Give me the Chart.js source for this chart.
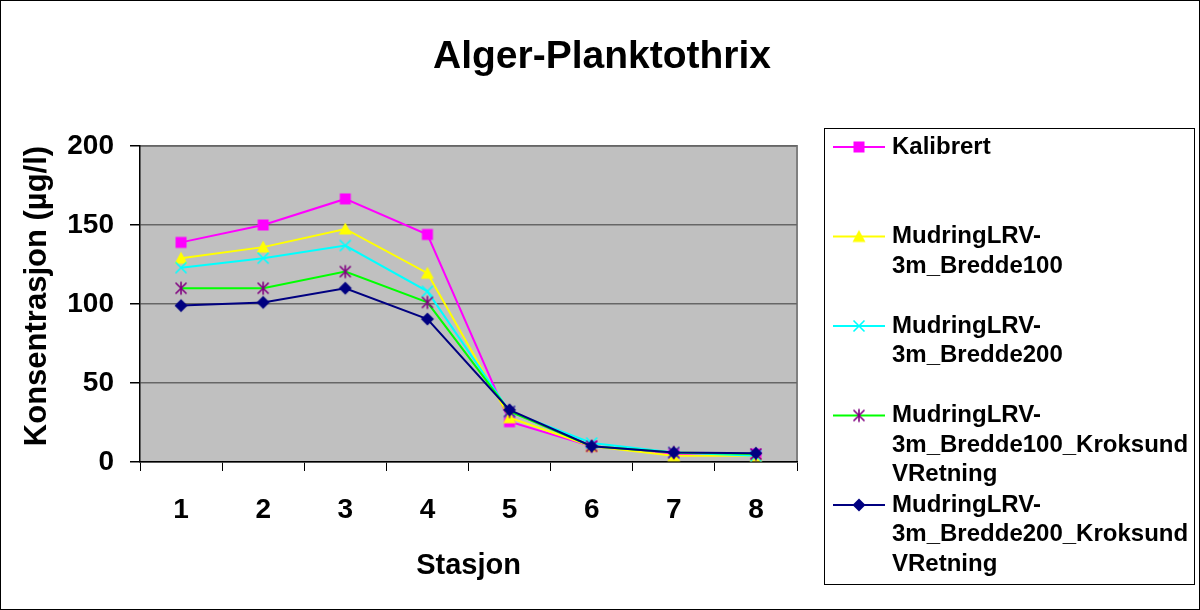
<!DOCTYPE html>
<html>
<head>
<meta charset="utf-8">
<script src="https://cdn.jsdelivr.net/npm/chart.js@4/dist/chart.umd.min.js"></script>
<style>
  html, body { margin: 0; padding: 0; background: #fff; }
  #wrap { width: 1200px; height: 610px; position: relative; }
</style>
</head>
<body>
<div id="wrap"><canvas id="chart" width="1200" height="610"></canvas></div>
<script>
const stations = ['1', '2', '3', '4', '5', '6', '7', '8'];
const kalibrert = [139, 150, 166.5, 144, 25.5, 10, 5, 5];
const bredde100 = [129, 136, 147.5, 119.5, 28, 10, 4, 4];
const bredde200 = [123, 129, 137, 108, 32, 12, 6, 4];
const bredde100Kroksund = [110, 110, 120.5, 101, 32, 10, 6, 5];
const bredde200Kroksund = [99, 101, 110, 90.5, 33, 10, 6, 5.5];
const yTicks = [0, 50, 100, 150, 200];

const FONT = 'Arial, "Liberation Sans", sans-serif';

// small canvases used as point markers (plot + legend)
const makeMarker = (shape, color) => {
  const s = 16;
  const c = document.createElement('canvas');
  c.width = s; c.height = s;
  const g = c.getContext('2d');
  const m = s / 2;
  g.fillStyle = color;
  g.strokeStyle = color;
  g.lineWidth = 1.6;
  if (shape === 'square') {
    g.fillRect(m - 5.5, m - 5.5, 11, 11);
  } else if (shape === 'triangle') {
    g.beginPath();
    g.moveTo(m, m - 6.5); g.lineTo(m + 6.5, m + 5.5); g.lineTo(m - 6.5, m + 5.5);
    g.closePath(); g.fill();
  } else if (shape === 'diamond') {
    g.beginPath();
    g.moveTo(m, m - 6.5); g.lineTo(m + 6.5, m); g.lineTo(m, m + 6.5); g.lineTo(m - 6.5, m);
    g.closePath(); g.fill();
  } else if (shape === 'cross') {
    g.beginPath();
    g.moveTo(m - 5.5, m - 5.5); g.lineTo(m + 5.5, m + 5.5);
    g.moveTo(m + 5.5, m - 5.5); g.lineTo(m - 5.5, m + 5.5);
    g.stroke();
  } else if (shape === 'asterisk') {
    g.beginPath();
    g.moveTo(m - 5.5, m - 5.5); g.lineTo(m + 5.5, m + 5.5);
    g.moveTo(m + 5.5, m - 5.5); g.lineTo(m - 5.5, m + 5.5);
    g.moveTo(m, m - 6.5); g.lineTo(m, m + 6.5);
    g.stroke();
  }
  return c;
};

const series = [
  { label: ['Kalibrert'], data: kalibrert, line: '#FF00FF', marker: makeMarker('square', '#FF00FF') },
  { label: ['MudringLRV-', '3m_Bredde100'], data: bredde100, line: '#FFFF00', marker: makeMarker('triangle', '#FFFF00') },
  { label: ['MudringLRV-', '3m_Bredde200'], data: bredde200, line: '#00FFFF', marker: makeMarker('cross', '#00FFFF') },
  { label: ['MudringLRV-', '3m_Bredde100_Kroksund', 'VRetning'], data: bredde100Kroksund, line: '#00FF00', marker: makeMarker('asterisk', '#800080') },
  { label: ['MudringLRV-', '3m_Bredde200_Kroksund', 'VRetning'], data: bredde200Kroksund, line: '#000080', marker: makeMarker('diamond', '#000080') }
];

// grey plot area, frame, titles and the boxed legend
const decor = {
  id: 'decor',
  beforeDraw(chart) {
    const { ctx, chartArea: a } = chart;
    ctx.save();
    ctx.fillStyle = '#fff';
    ctx.fillRect(0, 0, chart.width, chart.height);
    ctx.strokeStyle = '#000';
    ctx.lineWidth = 1;
    ctx.strokeRect(0.5, 0.5, chart.width - 1, chart.height - 1);
    ctx.fillStyle = '#C0C0C0';
    ctx.fillRect(a.left, a.top, a.right - a.left, a.bottom - a.top);
    ctx.strokeStyle = '#808080';
    ctx.lineWidth = 2;
    ctx.beginPath();
    ctx.moveTo(a.left, a.top); ctx.lineTo(a.right, a.top); ctx.lineTo(a.right, a.bottom);
    ctx.stroke();
    ctx.restore();
  },
  afterDraw(chart) {
    const { ctx, chartArea: a } = chart;
    ctx.save();
    ctx.fillStyle = '#000';
    ctx.textAlign = 'center';
    ctx.textBaseline = 'alphabetic';
    ctx.font = 'bold 39px ' + FONT;
    ctx.fillText('Alger-Planktothrix', 602, 68);
    ctx.font = 'bold 29px ' + FONT;
    ctx.fillText('Stasjon', (a.left + a.right) / 2, 574);
    ctx.font = 'bold 31px ' + FONT;
    ctx.translate(46, 296);
    ctx.rotate(-Math.PI / 2);
    ctx.fillText('Konsentrasjon (\u00b5g/l)', 0, 0);
    ctx.restore();

    // legend
    ctx.save();
    ctx.strokeStyle = '#000';
    ctx.lineWidth = 1;
    ctx.strokeRect(824.5, 128.5, 370, 456);
    ctx.font = 'bold 24px ' + FONT;
    ctx.textAlign = 'left';
    ctx.textBaseline = 'middle';
    series.forEach((s, i) => {
      const y = 147 + i * 89.5;
      ctx.strokeStyle = s.line;
      ctx.lineWidth = 2;
      ctx.beginPath();
      ctx.moveTo(833, y); ctx.lineTo(885, y);
      ctx.stroke();
      ctx.drawImage(s.marker, 859 - s.marker.width / 2, y - s.marker.height / 2);
      ctx.fillStyle = '#000';
      s.label.forEach((t, j) => ctx.fillText(t, 892, y + j * 29.5));
    });
    ctx.restore();
  }
};

new Chart(document.getElementById('chart'), {
  type: 'line',
  data: {
    labels: stations,
    datasets: series.map((s, i) => ({
      label: s.label.join(''),
      data: s.data,
      order: series.length - i,
      borderColor: s.line,
      backgroundColor: s.line,
      borderWidth: 2,
      pointStyle: s.marker,
      pointRadius: 7,
      tension: 0
    }))
  },
  options: {
    responsive: false,
    animation: false,
    layout: { padding: { left: 0, top: 146, right: 403, bottom: 0 } },
    plugins: {
      legend: { display: false },
      title: { display: false },
      tooltip: { enabled: false }
    },
    scales: {
      x: {
        offset: true,
        grid: { offset: true, drawOnChartArea: false, drawTicks: true, tickLength: 9, tickColor: '#000' },
        border: { color: '#000', width: 1.5 },
        ticks: { color: '#000', font: { family: FONT, size: 28, weight: 'bold' }, padding: 22, maxRotation: 0 },
        afterFit: (scale) => { scale.height = 148; }
      },
      y: {
        min: 0,
        max: 200,
        afterBuildTicks: (scale) => { scale.ticks = yTicks.map((v) => ({ value: v })); },
        grid: { color: '#666', lineWidth: 1.5, tickLength: 10, tickColor: '#000' },
        border: { color: '#000', width: 1.5 },
        ticks: { color: '#000', font: { family: FONT, size: 28, weight: 'bold' }, padding: 16 },
        afterFit: (scale) => { scale.width = 140; }
      }
    }
  },
  plugins: [decor]
});
</script>
</body>
</html>
